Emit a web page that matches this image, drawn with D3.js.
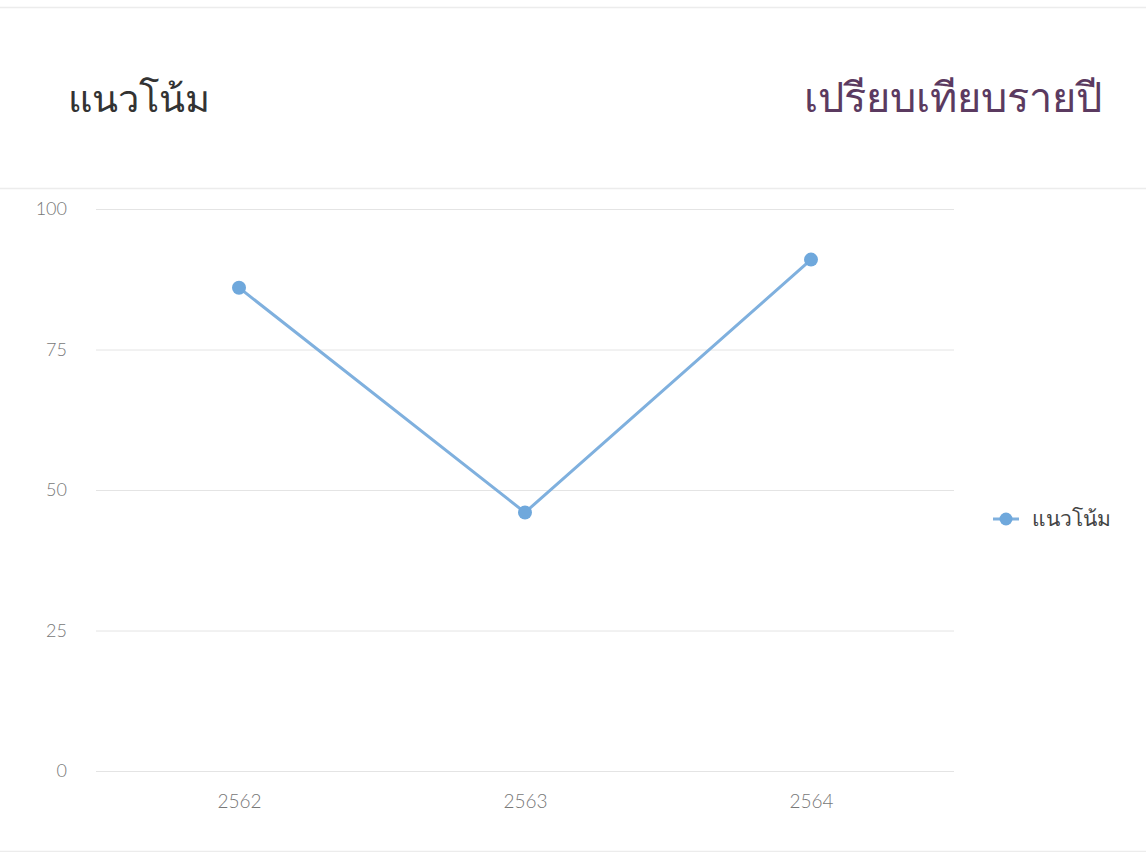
<!DOCTYPE html>
<html>
<head>
<meta charset="utf-8">
<script src="https://cdn.jsdelivr.net/npm/d3@7/dist/d3.min.js"></script>
<style>
  body { margin: 0; background: #fff; }
  text { font-family: "Noto Sans", "Open Sans", sans-serif; }
</style>
</head>
<body>
<div id="chart"></div>
<script>
var years = ["2562", "2563", "2564"];
var trendValues = [86, 46, 91];
var yTicks = [0, 25, 50, 75, 100];
var seriesName = "แนวโน้ม";
var titleLeft = "แนวโน้ม";
var titleRight = "เปรียบเทียบรายปี";

var svgWidth = 1146;
var svgHeight = 852;
var margin = { top: 209, right: 192, bottom: 81, left: 96 };
var width = svgWidth - margin.left - margin.right;
var height = svgHeight - margin.top - margin.bottom;

var svg = d3.select("#chart")
    .append("svg")
    .attr("width", svgWidth)
    .attr("height", svgHeight);

// header separators
[7, 188, 851].forEach(function(y) {
    svg.append("line")
      .attr("x1", 0).attr("x2", svgWidth)
      .attr("y1", y + 0.5).attr("y2", y + 0.5)
      .attr("stroke", "#ececec")
      .attr("stroke-width", 1.5);
});

svg.append("text")
    .attr("x", 68)
    .attr("y", 112)
    .attr("font-size", 38)
    .attr("fill", "#333")
    .text(titleLeft);

svg.append("text")
    .attr("x", 1102)
    .attr("y", 112)
    .attr("text-anchor", "end")
    .attr("font-size", 41.5)
    .attr("fill", "#5b3a60")
    .text(titleRight);

var chartGroup = svg.append("g")
    .attr("transform", `translate(${margin.left}, ${margin.top})`);

var xScale = d3.scalePoint()
    .domain(years)
    .range([0, width])
    .padding(0.5);

var yScale = d3.scaleLinear()
    .domain([0, 100])
    .range([height, 0]);

// grid
chartGroup.append("g")
    .call(d3.axisLeft(yScale).tickValues(yTicks).tickSize(-width).tickFormat(""))
    .call(g => g.select(".domain").remove())
    .call(g => g.selectAll("line").attr("stroke", "#e4e4e4"));

var leftAxis = chartGroup.append("g")
    .call(d3.axisLeft(yScale).tickValues(yTicks).tickSize(0).tickPadding(29));
leftAxis.select(".domain").remove();
leftAxis.selectAll("text")
    .attr("fill", "#777")
    .attr("font-size", 18)
    .style("font-family", "Lato, sans-serif")
    .style("font-weight", 300);

var bottomAxis = chartGroup.append("g")
    .attr("transform", `translate(0, ${height})`)
    .call(d3.axisBottom(xScale).tickSize(0).tickPadding(24));
bottomAxis.select(".domain").remove();
bottomAxis.selectAll("text")
    .attr("fill", "#777")
    .attr("font-size", 19)
    .style("font-family", "Lato, sans-serif")
    .style("font-weight", 300);

var line = d3.line()
    .x((d, i) => xScale(years[i]))
    .y(d => yScale(d));

chartGroup.append("path")
    .datum(trendValues)
    .attr("fill", "none")
    .attr("stroke", "#7fb0de")
    .attr("stroke-width", 3)
    .attr("d", line);

chartGroup.selectAll("circle")
    .data(trendValues)
    .enter()
    .append("circle")
    .attr("cx", (d, i) => xScale(years[i]))
    .attr("cy", d => yScale(d))
    .attr("r", 7)
    .attr("fill", "#6fa8dc");

// legend
var legend = svg.append("g")
    .attr("transform", "translate(993, 519)");
legend.append("line")
    .attr("x1", 0).attr("x2", 26)
    .attr("stroke", "#7fb0de")
    .attr("stroke-width", 3);
legend.append("circle")
    .attr("cx", 13).attr("r", 6.5)
    .attr("fill", "#6fa8dc");
legend.append("text")
    .attr("x", 39)
    .attr("y", 7)
    .attr("font-size", 21)
    .attr("fill", "#444")
    .text(seriesName);
</script>
</body>
</html>
